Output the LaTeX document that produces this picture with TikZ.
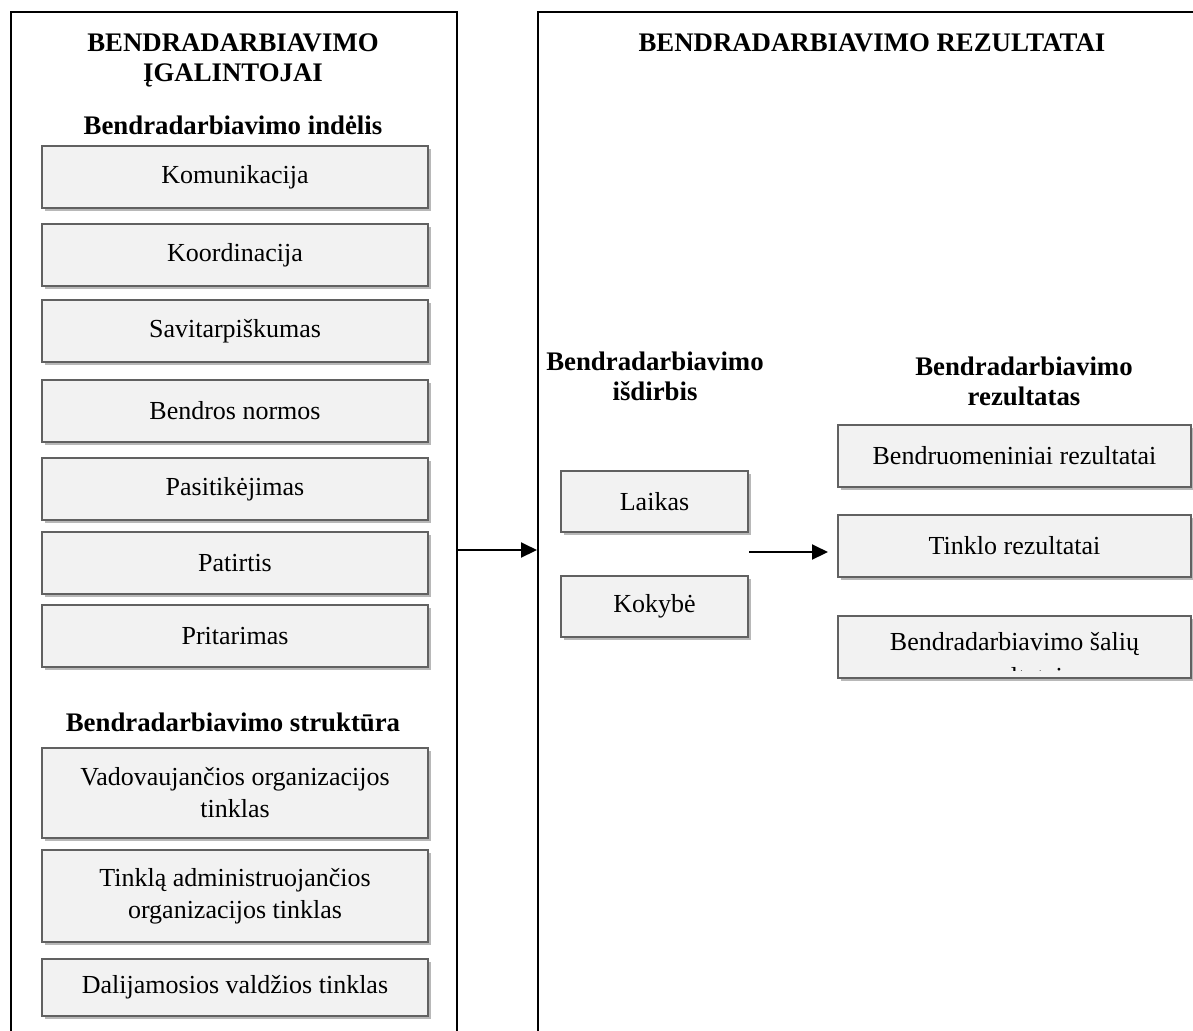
\documentclass[tikz,border=0pt]{standalone}
\usepackage{fontspec}
\setmainfont{Liberation Serif}
\usetikzlibrary{shadows,arrows.meta}
\begin{document}
\begin{tikzpicture}[x=0.5pt,y=-0.5pt,
  every node/.style={font=\fontsize{13}{16}\selectfont, inner sep=0pt},
  frame/.style={draw=black, line width=0.9pt},
  item/.style={draw=black!62, line width=1pt, fill=black!5, align=center, minimum height=31pt,
     drop shadow={shadow xshift=1.6pt, shadow yshift=-1.6pt, fill=black!28, opacity=1}},
  leftitem/.style={item, minimum width=193pt},
  miditem/.style={item, minimum width=93.5pt, minimum height=30.5pt},
  rightitem/.style={item, minimum width=176.5pt},
  head/.style={font=\bfseries\fontsize{13.4}{15}\selectfont, align=center},
  arr/.style={-{Triangle[length=8pt,width=7.5pt]}, line width=1pt}
]
\useasboundingbox (0,0) rectangle (1193,1030);
\begin{scope}
\clip (0,0) rectangle (1193,1030);
\node[frame, anchor=north west, minimum width=223pt, minimum height=530pt] (L) at (10,11) {};
\node[frame, anchor=north west, minimum width=400pt, minimum height=530pt] (R) at (537,11) {};
\end{scope}

% left column
\node[head] (tl) at (233,60) {BENDRADARBIAVIMO\\ĮGALINTOJAI};
\node[head, anchor=base] (h1) at (233,134) {Bendradarbiavimo indėlis};
\node[leftitem] (n1) at (235,177) {Komunikacija};
\node[leftitem] (n2) at (235,255) {Koordinacija};
\node[leftitem] (n3) at (235,331) {Savitarpiškumas};
\node[leftitem] (n4) at (235,411) {Bendros normos};
\node[leftitem] (n5) at (235,489) {Pasitikėjimas};
\node[leftitem] (n6) at (235,563) {Patirtis};
\node[leftitem] (n7) at (235,636) {Pritarimas};
\node[head, anchor=base] (h2) at (233,731) {Bendradarbiavimo struktūra};
\node[leftitem, minimum height=45pt] (n8) at (235,793) {Vadovaujančios organizacijos\\tinklas};
\node[leftitem, minimum height=46pt] (n9) at (235,896) {Tinklą administruojančios\\organizacijos tinklas};
\node[leftitem, minimum height=28.5pt] (n10) at (235,987.5) {Dalijamosios valdžios tinklas};

% right frame
\node[head, anchor=base] (tr) at (872,51) {BENDRADARBIAVIMO REZULTATAI};
\node[head] (hm) at (655,376) {Bendradarbiavimo\\išdirbis};
\node[head] (hr) at (1024,381) {Bendradarbiavimo\\rezultatas};
\node[miditem] (laikas) at (654.5,501.5) {Laikas};
\node[miditem] (kokybe) at (654.5,606.5) {Kokybė};
\node[rightitem] (r1) at (1014.5,455.5) {Bendruomeniniai rezultatai};
\node[rightitem] (r2) at (1014.5,545.5) {Tinklo rezultatai};
\node[rightitem] (r3) at (1014.5,647) {};
\begin{scope}
\clip (839,617) rectangle (1190,670);
\node[anchor=base] (r3a) at (1014.5,650) {Bendradarbiavimo šalių};
\node[anchor=base] (r3b) at (1014.5,685) {rezultatai};
\end{scope}

% connectors
\coordinate (y1) at (0,550);
\coordinate (y2) at (0,552);
\coordinate (a2e) at (828,552);
\draw[arr] (L.east |- y1) -- (R.west |- y1);
\draw[arr] (laikas.east |- y2) -- (a2e);
\end{tikzpicture}
\end{document}
